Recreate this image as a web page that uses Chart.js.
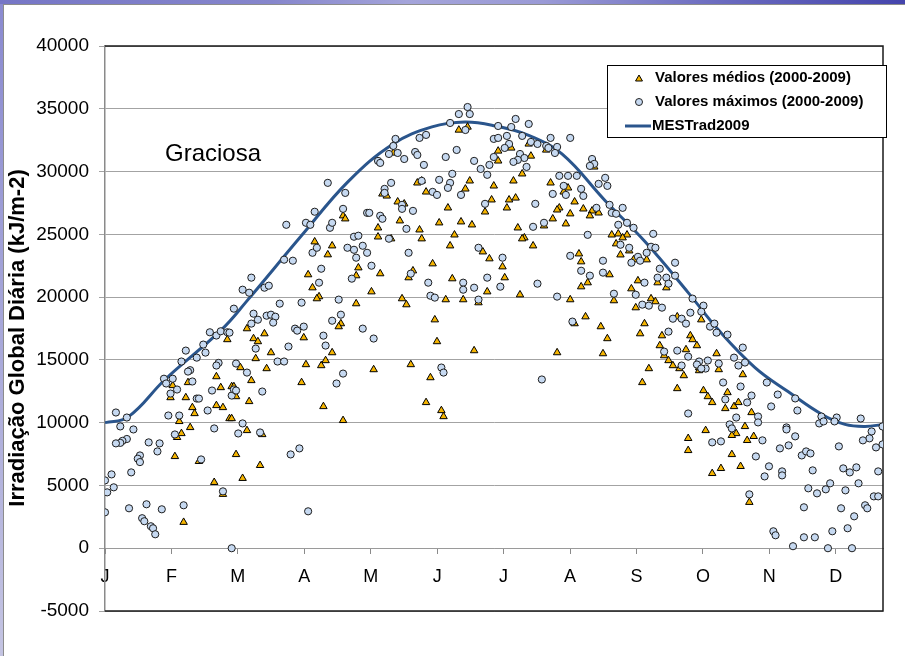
<!DOCTYPE html>
<html>
<head>
<meta charset="utf-8">
<script src="https://cdn.jsdelivr.net/npm/chart.js@4/dist/chart.umd.min.js"></script>
<style>
  html, body { margin: 0; padding: 0; background: #ffffff; }
  #wrap { position: absolute; left: 0; top: 0; width: 905px; height: 656px; }
</style>
</head>
<body>
<div id="wrap"><canvas id="c" width="905" height="656"></canvas></div>
<script>
// ---- Data (day of year, kJ/m2) ----
const monthLabels = ['J','F','M','A','M','J','J','A','S','O','N','D'];
const yTicks = [-5000, 0, 5000, 10000, 15000, 20000, 25000, 30000, 35000, 40000];

const mestrad2009 = [
  [0,10000],[10.5,10440],[27.5,13440],[53.4,17410],[65,19700],[90,24900],
  [111.3,29200],[131.9,32200],[149.7,33560],[164.8,33950],[178.6,33640],
  [193.7,32900],[209.2,31400],[228.9,27700],[247.3,24400],
  [267,20360],[280.7,17420],[297.6,14390],[312.7,12480],[328.3,10650],[338.8,9860],
  [348,9700],[356.2,9860]
];

const valoresMaximos = [
  [48,17200],[51,16940],[53,17280],[56,17200],[45,16220],[37,15740],[42,15180],[46,15580],
  [35,14870],[52,14760],[51,14550],[39,14180],[38,14070],[27,13500],[31,13500],[28,13120],
  [30,12320],[33,12640],[40,13280],[49,12560],[58,12160],[42,11920],[43,11920],[47,10970],
  [5,10810],[10,10410],[29,10570],[34,10570],[7,9700],[13,9460],[50,9540],[10,8700],[8,8550],
  [7,8390],[5,8350],[20,8430],[25,8350],[24,7710],[32,9060],[16,7390],[15,7130],[16,6860],
  [44,7070],[12,6040],[3,5880],[0,5400],[4,4850],[1,4450],[54,4530],[11,3180],[19,3500],
  [26,3100],[36,3420],[0,2860],[17,2390],[18,2150],[21,1750],[22,1590],[23,1110],[58,0],
  [102,29100],[110,28300],[96,26800],[109,27030],[83,25760],[92,25920],[94,25760],[103,25520],
  [104,25920],[120,26710],[121,26710],[114,24810],[116,24890],[118,24090],[111,23930],
  [114,23770],[115,23140],[120,23530],[82,22980],[86,22900],[95,23530],[97,23930],[99,22260],
  [67,21550],[63,20590],[66,20350],[73,20750],[75,20910],[98,21150],[113,21470],[59,19080],
  [80,19480],[90,19560],[107,19800],[68,18680],[70,18200],[67,17890],[74,18520],[76,18600],
  [78,18440],[77,17970],[87,17490],[88,17330],[91,17650],[104,18120],[108,18600],[118,17490],
  [57,17170],[69,15900],[84,16060],[100,16930],[101,16140],[79,14870],[82,14870],[60,14710],
  [65,13990],[109,13910],[106,13120],[59,12640],[60,12560],[72,12480],[63,9940],[61,9140],
  [71,9220],[85,7470],[89,7950],[93,2940],
  [166,35140],[167,34580],[162,34580],[158,33870],[165,33310],[133,32600],[132,32040],
  [144,32680],[147,32920],[130,31400],[134,31480],[137,31000],[125,30850],[126,30690],
  [142,31560],[143,31320],[146,30530],[156,31160],[161,31720],[169,30850],[178,32600],
  [180,32680],[178,31160],[176,30530],[172,30210],[175,29740],[159,29820],[131,29100],
  [128,28620],[128,28300],[145,29260],[153,29340],[158,29100],[157,28700],[150,28380],
  [152,28140],[163,28140],[174,27430],[126,26480],[127,26240],[136,27350],[136,27030],
  [141,26870],[138,25440],[130,24650],[139,23530],[122,22500],[171,23930],[140,21870],
  [148,21150],[164,21150],[164,20590],[169,20750],[175,21550],[149,20110],[151,19960],
  [171,19800],[123,16700],[154,14390],[155,13990],
  [188,34190],[194,33790],[186,33550],[180,33630],[204,32680],[213,32680],[191,32840],
  [184,32840],[195,32360],[198,32200],[202,32040],[207,31960],[185,32200],[183,31880],
  [203,31880],[190,31400],[192,31080],[189,30930],[187,30770],[206,31480],[193,30370],
  [223,31000],[224,30610],[222,30450],[208,29660],[212,29660],[216,29660],[229,29500],
  [230,28860],[226,29020],[210,28860],[218,28620],[205,28220],[211,28140],[219,28060],
  [197,27430],[231,27350],[225,27110],[232,26710],[234,26640],[237,27110],[239,25920],
  [235,25760],[201,25920],[196,25600],[221,24960],[240,23930],[182,23140],[236,24170],
  [213,23290],[228,22900],[218,22100],[228,21950],[222,21710],[181,20830],[198,21070],
  [207,20040],[233,20270],[214,18050],[200,13440],
  [242,25520],[251,25040],[250,24010],[252,23930],[248,23530],[244,23210],[241,22740],
  [245,22900],[261,22740],[254,22260],[261,21710],[253,21550],[257,21550],[258,21070],
  [247,21150],[243,20190],[269,19880],[274,19320],[273,18840],[246,19400],[249,19320],
  [255,19160],[268,18760],[260,18280],[264,18280],[266,17890],[277,17650],[279,17890],
  [280,17170],[285,17010],[258,17250],[292,15980],[262,15740],[267,15260],[256,15660],
  [288,15180],[272,14870],[276,14950],[275,14310],[271,14630],[281,14710],[293,14790],
  [290,14550],[264,14550],[273,14310],[283,13200],[291,12880],[296,12160],[294,11610],
  [284,11850],[267,10730],[299,10490],[299,10020],[289,10410],[286,9860],[287,9540],
  [278,8430],[282,8510],[298,7310],[295,4290],
  [303,13200],[308,12240],[316,11930],[305,11290],[317,10970],[328,10490],[327,9940],
  [329,10100],[335,10410],[334,10100],[346,10330],[356,9700],[351,9300],[350,8750],
  [347,8590],[353,8030],[356,8270],[301,8590],[312,9620],[312,9460],[316,8910],[313,8190],
  [309,7950],[319,7390],[321,7710],[323,7550],[336,8110],[304,6520],[302,5720],[310,6120],
  [310,5800],[324,6200],[338,6360],[341,6040],[344,6440],[354,6120],[332,5170],[330,4690],
  [326,4370],[322,4770],[339,4610],[345,5170],[352,4130],[354,4130],[348,3420],[349,3180],
  [320,3260],[337,3180],[343,2540],[306,1350],[307,1030],[340,1590],[333,1350],[320,870],
  [325,870],[315,160],[331,0],[342,0]
];

const valoresMedios = [
  [56,16620],[31,12960],[38,13200],[30,12000],[37,12000],[51,13670],[53,12800],[58,12880],
  [40,11210],[41,10730],[51,11370],[54,11210],[34,10100],[39,9620],[35,9140],[33,8830],
  [57,10330],[32,7310],[43,6920],[50,5250],[54,4300],[36,2070],
  [109,26480],[110,26240],[96,24410],[104,24090],[102,23380],[116,22340],[115,21710],
  [93,21790],[95,20750],[98,20040],[97,19880],[115,19480],[65,17490],[73,17090],[68,16700],
  [70,16460],[91,16770],[108,17890],[107,17650],[76,15580],[104,15580],[69,15110],[62,14390],
  [74,14310],[92,14630],[99,14550],[101,14950],[67,13360],[90,13200],[59,12880],[60,12080],
  [66,11690],[100,11290],[109,10180],[58,10330],[65,9380],[72,9060],[60,7470],[71,6600],
  [63,5570],
  [162,33310],[166,33550],[132,31480],[180,31640],[180,30850],[143,29100],[145,29260],
  [147,28380],[167,29260],[165,28620],[178,28860],[127,28220],[129,28060],[134,27590],
  [137,27430],[177,27750],[157,27110],[174,26790],[135,26080],[153,25920],[163,26000],
  [168,25760],[125,25520],[144,25360],[125,24800],[131,24650],[145,24650],[160,24960],
  [158,24090],[173,23610],[176,23060],[126,21870],[150,22660],[139,21550],[141,22100],
  [159,21470],[122,20430],[136,19880],[138,19400],[156,19800],[164,19800],[171,19560],
  [175,20430],[151,18200],[152,16460],[169,15740],[123,14230],[140,14630],[149,13590],
  [147,11610],[154,10970],[155,10490],
  [194,32200],[186,31880],[202,31720],[195,31240],[224,30370],[191,29820],[187,29260],
  [204,29100],[212,28700],[210,28380],[188,27900],[185,27750],[184,27110],[215,27590],
  [208,27110],[207,26950],[219,27030],[213,26640],[211,25840],[223,26870],[226,26710],
  [222,26480],[205,26240],[189,25520],[192,24730],[191,24650],[196,24090],[201,25680],
  [232,24960],[235,25040],[239,24960],[234,24250],[237,24730],[217,23450],[218,22820],
  [236,23370],[182,22420],[183,21550],[231,21790],[218,20830],[221,21150],[190,20190],
  [213,19800],[233,19720],[220,18440],[227,17650],[215,17890],[230,16700],[207,15580],
  [228,15500],
  [240,23690],[248,22980],[242,22980],[253,21150],[257,20750],[244,21310],[241,20670],
  [243,19160],[250,19880],[252,19640],[262,18440],[273,18200],[247,17890],[245,17090],
  [255,16930],[254,16140],[268,16930],[269,16620],[271,16140],[266,15820],[256,15340],
  [258,14950],[260,14550],[263,14310],[265,13750],[280,15500],[281,14230],[272,14150],
  [272,14390],[249,14310],[246,13200],[262,12720],[292,13830],[274,12560],[276,12080],
  [278,11610],[285,12400],[284,11130],[288,11290],[290,11610],[296,10810],[293,9700],
  [275,9380],[289,9140],[287,8990],[297,8910],[294,8590],[267,8750],[267,7790],[287,7470],
  [291,6520],[282,6360],[278,5960],[295,3660]
];

const legendItems = ['Valores médios (2000-2009)', 'Valores máximos (2000-2009)', 'MESTrad2009'];
const stationName = 'Graciosa';
const yTitle = 'Irradiação Global Diária (kJ/m-2)';

// ---- styles ----
const triFill = '#f5b400';
const circFill = '#c6d9f1';
const lineCol = '#2a558c';
const FONT = '"Liberation Sans", Arial, sans-serif';

const toXY = arr => arr.map(p => ({x: p[0], y: p[1]}));
const DAYS_PER_MONTH = 365 / 12;

const framePlugin = {
  id: 'frame',
  beforeDraw(chart) {
    const ctx = chart.ctx, W = chart.width, H = chart.height;
    ctx.save();
    ctx.fillStyle = '#ffffff';
    ctx.fillRect(0, 0, W, H);
    const lg = ctx.createLinearGradient(0, 0, 0, H);
    lg.addColorStop(0, '#8a8ad0');
    lg.addColorStop(1, '#c4c4e2');
    ctx.fillStyle = lg;
    ctx.fillRect(0, 0, 3, H);
    const tg = ctx.createLinearGradient(0, 0, W, 0);
    tg.addColorStop(0, '#7676c6');
    tg.addColorStop(0.3, '#8686cc');
    tg.addColorStop(0.45, '#a4a4da');
    tg.addColorStop(0.6, '#9a9ad6');
    tg.addColorStop(0.8, '#6a6abf');
    tg.addColorStop(1, '#4444ac');
    ctx.fillStyle = tg;
    ctx.fillRect(0, 0, W, 4);
    ctx.fillStyle = '#8c8c8c';
    ctx.fillRect(3, 4, W - 3, 1);
    ctx.fillRect(3, 4, 1, H - 4);
    ctx.restore();
  },
  beforeDatasetsDraw(chart) {
    const {ctx, chartArea: a} = chart;
    ctx.save();
    ctx.strokeStyle = '#1a1a1a';
    ctx.lineWidth = 1.5;
    ctx.beginPath();
    ctx.moveTo(a.left, a.top);
    ctx.lineTo(a.right, a.top);
    ctx.lineTo(a.right, a.bottom);
    ctx.lineTo(a.left, a.bottom);
    ctx.stroke();
    ctx.fillStyle = '#000';
    ctx.font = 'bold 22px ' + FONT;
    ctx.textAlign = 'center';
    ctx.textBaseline = 'middle';
    ctx.translate(18, 338);
    ctx.rotate(-Math.PI / 2);
    ctx.fillText(yTitle, 0, 0);
    ctx.restore();
    ctx.save();
    ctx.fillStyle = '#000';
    ctx.font = '24px ' + FONT;
    ctx.textAlign = 'left';
    ctx.textBaseline = 'alphabetic';
    ctx.fillText(stationName, 165, 161);
    ctx.restore();
  },
  afterDraw(chart) {
    const ctx = chart.ctx;
    ctx.save();
    const bx = 607.5, by = 65.5, bw = 279, bh = 72;
    ctx.fillStyle = '#fff';
    ctx.fillRect(bx, by, bw, bh);
    ctx.strokeStyle = '#000';
    ctx.lineWidth = 1;
    ctx.strokeRect(bx, by, bw, bh);
    const rows = [78, 102, 126];
    ctx.fillStyle = triFill; ctx.strokeStyle = '#000'; ctx.lineWidth = 1;
    Chart.helpers.drawPoint(ctx, {pointStyle: 'triangle', radius: 4, rotation: 0, borderWidth: 1}, 639, rows[0] + 1);
    ctx.fillStyle = circFill; ctx.strokeStyle = '#222';
    Chart.helpers.drawPoint(ctx, {pointStyle: 'circle', radius: 3.5, rotation: 0, borderWidth: 1}, 639, rows[1]);
    ctx.strokeStyle = lineCol; ctx.lineWidth = 3;
    ctx.beginPath(); ctx.moveTo(625, rows[2]); ctx.lineTo(651, rows[2]); ctx.stroke();
    ctx.fillStyle = '#000';
    ctx.font = 'bold 15px ' + FONT;
    ctx.textBaseline = 'middle';
    ctx.textAlign = 'left';
    ctx.fillText(legendItems[0], 655, rows[0]);
    ctx.fillText(legendItems[1], 655, rows[1]);
    ctx.fillText(legendItems[2], 652, rows[2]);
    ctx.restore();
  }
};

new Chart(document.getElementById('c'), {
  type: 'scatter',
  data: {
    datasets: [
      {
        label: legendItems[1],
        data: toXY(valoresMaximos),
        pointStyle: 'circle',
        pointRadius: 3.6,
        pointBackgroundColor: circFill,
        pointBorderColor: '#1e1e1e',
        pointBorderWidth: 1,
        showLine: false,
        order: 0
      },
      {
        label: legendItems[0],
        data: toXY(valoresMedios),
        pointStyle: 'triangle',
        pointRadius: 4.3,
        pointBackgroundColor: triFill,
        pointBorderColor: '#000',
        pointBorderWidth: 1,
        showLine: false,
        order: 1
      },
      {
        label: legendItems[2],
        data: toXY(mestrad2009),
        showLine: true,
        borderColor: lineCol,
        borderWidth: 3,
        pointRadius: 0,
        tension: 0.4,
        fill: false,
        order: 2
      }
    ]
  },
  options: {
    responsive: false,
    animation: false,
    events: [],
    layout: { padding: { top: 46, right: 22, bottom: 45, left: 0 } },
    plugins: { legend: { display: false }, tooltip: { enabled: false } },
    scales: {
      x: {
        type: 'linear',
        min: 0,
        max: 356.2,
        position: { y: 0 },
        afterBuildTicks(scale) {
          scale.ticks = monthLabels.map((_, i) => ({ value: i * DAYS_PER_MONTH }));
        },
        ticks: {
          autoSkip: false,
          maxRotation: 0,
          padding: 13,
          color: '#000',
          font: { family: FONT, size: 18 },
          callback: (v, i) => monthLabels[i]
        },
        grid: { drawOnChartArea: false, drawTicks: true, tickLength: 5, color: '#8a8a8a' },
        border: { display: true, color: '#9a9a9a', width: 1 }
      },
      y: {
        type: 'linear',
        min: yTicks[0],
        max: yTicks[yTicks.length - 1],
        afterBuildTicks(scale) {
          scale.ticks = yTicks.map(v => ({ value: v }));
        },
        afterFit(scale) { scale.width = 105; },
        ticks: {
          padding: 10,
          color: '#000',
          font: { family: FONT, size: 19 },
          callback: v => String(v)
        },
        grid: { color: '#a3a3a3', lineWidth: 1, tickLength: 6 },
        border: { display: true, color: '#8a8a8a', width: 1.5 }
      }
    }
  },
  plugins: [framePlugin]
});
</script>
</body>
</html>
